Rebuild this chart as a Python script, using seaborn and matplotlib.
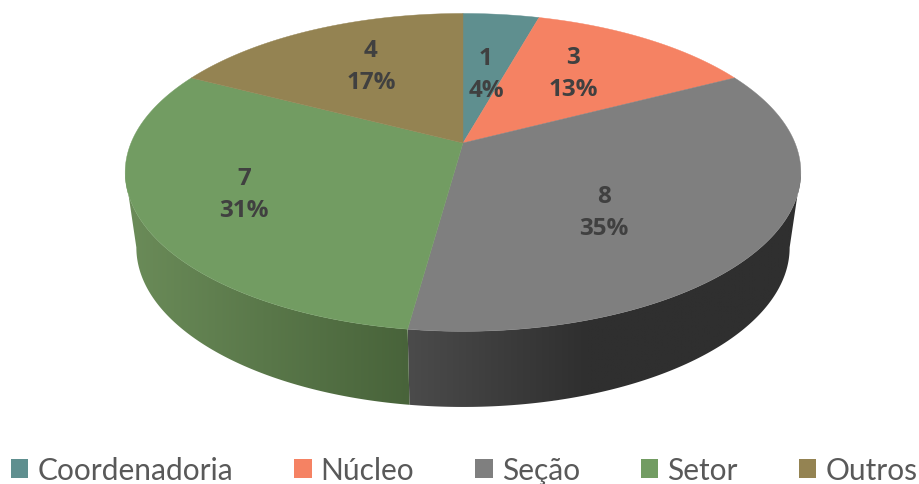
import numpy as np
import matplotlib
matplotlib.use("Agg")
import matplotlib.pyplot as plt
from matplotlib.patches import Patch, Polygon
import seaborn as sns

categories = ["Coordenadoria", "Núcleo", "Seção", "Setor", "Outros"]
counts = [1, 3, 8, 7, 4]
percents = [4, 13, 35, 31, 17]
top_colors = ["#5F8F8F", "#F58263", "#7F7F7F", "#729C62", "#948352"]
side_near = ["#4A6F6F", "#B5604A", "#4B4B4B", "#48633A", "#6E613C"]
side_far = ["#4A6F6F", "#B5604A", "#2F2F2F", "#6B8C59", "#6E613C"]

sns.set_theme(style="white")
plt.rcParams["font.family"] = ["Lato", "DejaVu Sans"]
palette = sns.color_palette(top_colors)

fig = plt.figure(figsize=(9.19, 4.85), dpi=100, facecolor="white")
ax = fig.add_axes([0, 0, 1, 1])
wedges, _ = ax.pie(counts, startangle=90, counterclock=False, colors=palette)
spans = [(w.theta1, w.theta2) for w in wedges]
for w in wedges:
    w.remove()
ax.set_aspect("auto")
ax.axis("off")

K = 0.185
CX = 463
# where the projected rim is widest: the wall's silhouette starts and ends here
TANGENT = np.degrees(np.arcsin(K))


def rim(theta, a, b, y0):
    t = np.radians(theta)
    u, v = np.cos(t), np.sin(t)
    w = 1 + K * v
    return CX + a * u / w, y0 - b * v / w


def top(theta):
    return rim(theta, 332, 153.5, 144)


def low(theta):
    return rim(theta, 321, 154, 219)


def front_parts(t1, t2):
    # the parts of a wedge that lie on the visible front of the pie
    t1, t2 = min(t1, t2), max(t1, t2)
    parts = []
    for shift in (-720, -360, 0, 360):
        lo, hi = max(t1 + shift, -180 + TANGENT), min(t2 + shift, -TANGENT)
        if hi > lo:
            parts.append((lo, hi))
    return parts


# side wall: a horizontal gradient clipped to the visible band of each wedge
for i, (t1, t2) in enumerate(spans):
    for lo, hi in front_parts(t1, t2):
        th = np.linspace(lo, hi, 300)
        xt, yt = top(th)
        xb, yb = low(th)
        band = Polygon(np.c_[np.r_[xt, xb[::-1]], np.r_[yt, yb[::-1]]], closed=True,
                       transform=ax.transData, fc="none", ec="none")
        ax.add_patch(band)
        xmin, xmax = min(xt.min(), xb.min()), max(xt.max(), xb.max())
        xs = np.linspace(xmin, xmax, 512)
        seam_at_right = i == 3
        f = (xmax - xs) / (xmax - xmin) if seam_at_right else (xs - xmin) / (xmax - xmin)
        if i == 2:
            f = np.minimum(1, f * 2.2)
        near = np.array(matplotlib.colors.to_rgb(side_near[i]))
        far = np.array(matplotlib.colors.to_rgb(side_far[i]))
        grad = near + (far - near) * f[:, None]
        im = ax.imshow(grad[None, :, :], extent=[xmin, xmax, yb.max() + 1, yt.min() - 1],
                       aspect="auto", zorder=1, interpolation="bilinear")
        im.set_clip_path(band)

ax.set_xlim(0, 919)
ax.set_ylim(485, 0)

# top face
for i, (t1, t2) in enumerate(spans):
    th = np.linspace(t1, t2, 200)
    xs, ys = top(th)
    ax.fill(np.r_[CX, xs], np.r_[144, ys], color=palette[i], lw=0.3, ec=palette[i], zorder=2)

# data labels
label_xy = [(486, 75), (573, 74), (604, 213), (244, 195), (371, 67)]
for n, p, (x, y) in zip(counts, percents, label_xy):
    ax.text(x, y, f"{n}\n{p}%", ha="center", va="center", fontsize=17.5, fontweight="bold",
            family="Open Sans", color="#404040", linespacing=1.45, zorder=3)

handles = [Patch(facecolor=c, edgecolor="none", label=n) for n, c in zip(categories, palette)]
ax.legend(handles=handles, loc="lower center", bbox_to_anchor=(0.505, 0.0), ncol=5, frameon=False,
          fontsize=21.5, labelcolor="#595959", handlelength=0.58, handleheight=0.58, handletextpad=0.3,
          columnspacing=2.05, borderpad=0, borderaxespad=0)

fig.savefig("out.png", dpi=100, facecolor="white")
